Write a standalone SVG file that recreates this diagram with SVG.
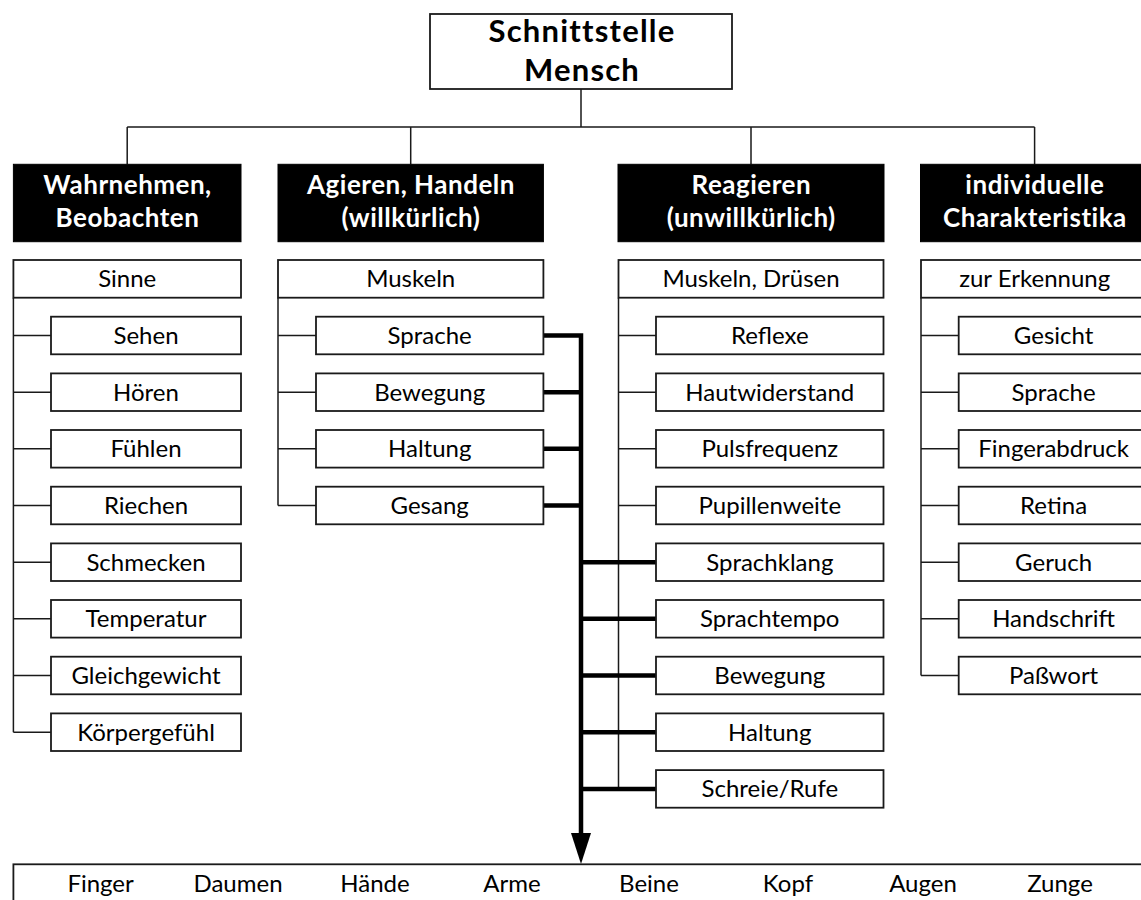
<svg xmlns="http://www.w3.org/2000/svg" width="1141" height="900" viewBox="0 0 1141 900">
<style>
.box{fill:#fff;stroke:#1a1a1a;stroke-width:1.8}
.hdr{fill:#000;stroke:#000;stroke-width:1}
.ln{fill:none;stroke:#1a1a1a;stroke-width:1.5}
.thick{fill:none;stroke:#000;stroke-width:4.5;stroke-linejoin:miter}
.t{font-family:Lato,"Open Sans","Liberation Sans",sans-serif;font-size:24px;fill:#000;text-anchor:middle}
.h{font-family:Lato,"Open Sans","Liberation Sans",sans-serif;font-size:26px;font-weight:bold;fill:#fff;text-anchor:middle;letter-spacing:0.5px}
.title{font-family:Lato,"Open Sans","Liberation Sans",sans-serif;font-size:31px;font-weight:bold;fill:#000;text-anchor:middle;letter-spacing:1.2px}
</style>
<rect width="1141" height="900" fill="#fff"/>
<g id="connectors">
<path class="ln" d="M581,89 V127 M127.2,127 H1034.6 M127.2,127 V164.3 M410.7,127 V164.3 M751,127 V164.3 M1034.6,127 V164.3"/>
<path class="ln" d="M13.4,297.7 V732.2 M13.4,335.5 H51 M13.4,392.2 H51 M13.4,448.8 H51 M13.4,505.5 H51 M13.4,562.2 H51 M13.4,618.8 H51 M13.4,675.5 H51 M13.4,732.2 H51"/>
<path class="ln" d="M278,297.7 V505.5 M278,335.5 H316 M278,392.2 H316 M278,448.8 H316 M278,505.5 H316"/>
<path class="ln" d="M618.5,297.7 V788.9 M618.5,335.5 H656 M618.5,392.2 H656 M618.5,448.8 H656 M618.5,505.5 H656 M618.5,562.2 H656 M618.5,618.8 H656 M618.5,675.5 H656 M618.5,732.2 H656 M618.5,788.9 H656"/>
<path class="ln" d="M921,297.7 V675.5 M921,335.5 H958.7 M921,392.2 H958.7 M921,448.8 H958.7 M921,505.5 H958.7 M921,562.2 H958.7 M921,618.8 H958.7 M921,675.5 H958.7"/>
<path class="thick" d="M543.4,335.5 H581 V836 M543.4,392.2 H581 M543.4,448.8 H581 M543.4,505.5 H581 M581,562.2 H656 M581,618.8 H656 M581,675.5 H656 M581,732.2 H656 M581,788.9 H656"/>
<polygon points="571,833 591,833 581,864" fill="#000"/>
</g>
<g id="top"><rect class="box" x="430" y="14" width="302" height="75"/><text class="title" x="582" y="42">Schnittstelle</text><text class="title" x="582" y="81">Mensch</text></g>
<g id="h1"><rect class="hdr" x="13.4" y="164.3" width="227.6" height="77.4"/><text class="h" x="127.5" y="194">Wahrnehmen,</text><text class="h" x="127.5" y="226.5">Beobachten</text></g>
<g id="h2"><rect class="hdr" x="278" y="164.3" width="265.4" height="77.4"/><text class="h" x="411" y="194">Agieren, Handeln</text><text class="h" x="411" y="226.5">(willkürlich)</text></g>
<g id="h3"><rect class="hdr" x="618" y="164.3" width="266" height="77.4"/><text class="h" x="751.3" y="194">Reagieren</text><text class="h" x="751.3" y="226.5">(unwillkürlich)</text></g>
<g id="h4"><rect class="hdr" x="920.5" y="164.3" width="228.2" height="77.4"/><text class="h" x="1034.9" y="194">individuelle</text><text class="h" x="1034.9" y="226.5">Charakteristika</text></g>
<g id="l1"><rect class="box" x="13.4" y="260" width="227.6" height="37.7"/><text class="t" x="127.2" y="287.2">Sinne</text></g>
<g id="l2"><rect class="box" x="278" y="260" width="265.4" height="37.7"/><text class="t" x="410.7" y="287.2">Muskeln</text></g>
<g id="l3"><rect class="box" x="618.5" y="260" width="265" height="37.7"/><text class="t" x="751" y="287.2">Muskeln, Drüsen</text></g>
<g id="l4"><rect class="box" x="921" y="260" width="227.5" height="37.7"/><text class="t" x="1034.7" y="287.2">zur Erkennung</text></g>
<g id="c1">
<g id="c1-0"><rect class="box" x="51" y="316.7" width="190" height="37.6"/><text class="t" x="146" y="344">Sehen</text></g>
<g id="c1-1"><rect class="box" x="51" y="373.4" width="190" height="37.6"/><text class="t" x="146" y="400.7">Hören</text></g>
<g id="c1-2"><rect class="box" x="51" y="430" width="190" height="37.6"/><text class="t" x="146" y="457.3">Fühlen</text></g>
<g id="c1-3"><rect class="box" x="51" y="486.7" width="190" height="37.6"/><text class="t" x="146" y="514">Riechen</text></g>
<g id="c1-4"><rect class="box" x="51" y="543.4" width="190" height="37.6"/><text class="t" x="146" y="570.7">Schmecken</text></g>
<g id="c1-5"><rect class="box" x="51" y="600" width="190" height="37.6"/><text class="t" x="146" y="627.3">Temperatur</text></g>
<g id="c1-6"><rect class="box" x="51" y="656.7" width="190" height="37.6"/><text class="t" x="146" y="684">Gleichgewicht</text></g>
<g id="c1-7"><rect class="box" x="51" y="713.4" width="190" height="37.6"/><text class="t" x="146" y="740.7">Körpergefühl</text></g>
</g>
<g id="c2">
<g id="c2-0"><rect class="box" x="316" y="316.7" width="227.4" height="37.6"/><text class="t" x="429.7" y="344">Sprache</text></g>
<g id="c2-1"><rect class="box" x="316" y="373.4" width="227.4" height="37.6"/><text class="t" x="429.7" y="400.7">Bewegung</text></g>
<g id="c2-2"><rect class="box" x="316" y="430" width="227.4" height="37.6"/><text class="t" x="429.7" y="457.3">Haltung</text></g>
<g id="c2-3"><rect class="box" x="316" y="486.7" width="227.4" height="37.6"/><text class="t" x="429.7" y="514">Gesang</text></g>
</g>
<g id="c3">
<g id="c3-0"><rect class="box" x="656" y="316.7" width="227.5" height="37.6"/><text class="t" x="769.8" y="344">Reflexe</text></g>
<g id="c3-1"><rect class="box" x="656" y="373.4" width="227.5" height="37.6"/><text class="t" x="769.8" y="400.7">Hautwiderstand</text></g>
<g id="c3-2"><rect class="box" x="656" y="430" width="227.5" height="37.6"/><text class="t" x="769.8" y="457.3">Pulsfrequenz</text></g>
<g id="c3-3"><rect class="box" x="656" y="486.7" width="227.5" height="37.6"/><text class="t" x="769.8" y="514">Pupillenweite</text></g>
<g id="c3-4"><rect class="box" x="656" y="543.4" width="227.5" height="37.6"/><text class="t" x="769.8" y="570.7">Sprachklang</text></g>
<g id="c3-5"><rect class="box" x="656" y="600" width="227.5" height="37.6"/><text class="t" x="769.8" y="627.3">Sprachtempo</text></g>
<g id="c3-6"><rect class="box" x="656" y="656.7" width="227.5" height="37.6"/><text class="t" x="769.8" y="684">Bewegung</text></g>
<g id="c3-7"><rect class="box" x="656" y="713.4" width="227.5" height="37.6"/><text class="t" x="769.8" y="740.7">Haltung</text></g>
<g id="c3-8"><rect class="box" x="656" y="770.1" width="227.5" height="37.6"/><text class="t" x="769.8" y="797.4">Schreie/Rufe</text></g>
</g>
<g id="c4">
<g id="c4-0"><rect class="box" x="958.7" y="316.7" width="189.8" height="37.6"/><text class="t" x="1053.6" y="344">Gesicht</text></g>
<g id="c4-1"><rect class="box" x="958.7" y="373.4" width="189.8" height="37.6"/><text class="t" x="1053.6" y="400.7">Sprache</text></g>
<g id="c4-2"><rect class="box" x="958.7" y="430" width="189.8" height="37.6"/><text class="t" x="1053.6" y="457.3">Fingerabdruck</text></g>
<g id="c4-3"><rect class="box" x="958.7" y="486.7" width="189.8" height="37.6"/><text class="t" x="1053.6" y="514">Retina</text></g>
<g id="c4-4"><rect class="box" x="958.7" y="543.4" width="189.8" height="37.6"/><text class="t" x="1053.6" y="570.7">Geruch</text></g>
<g id="c4-5"><rect class="box" x="958.7" y="600" width="189.8" height="37.6"/><text class="t" x="1053.6" y="627.3">Handschrift</text></g>
<g id="c4-6"><rect class="box" x="958.7" y="656.7" width="189.8" height="37.6"/><text class="t" x="1053.6" y="684">Paßwort</text></g>
</g>
<g id="bottom">
<rect class="box" x="13.4" y="864.3" width="1200" height="100"/>
<text class="t" x="100.6" y="892">Finger</text>
<text class="t" x="238" y="892">Daumen</text>
<text class="t" x="375" y="892">Hände</text>
<text class="t" x="512" y="892">Arme</text>
<text class="t" x="649" y="892">Beine</text>
<text class="t" x="788" y="892">Kopf</text>
<text class="t" x="923" y="892">Augen</text>
<text class="t" x="1060" y="892">Zunge</text>
</g>
</svg>
